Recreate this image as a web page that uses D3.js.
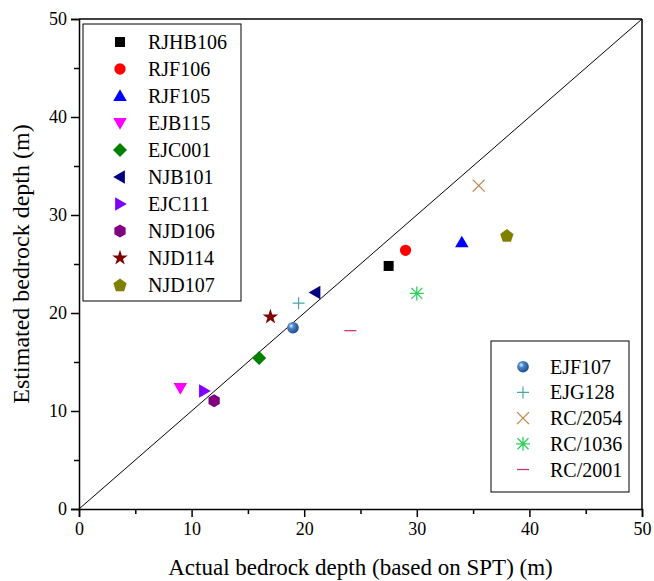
<!DOCTYPE html>
<html>
<head>
<meta charset="utf-8">
<script src="https://cdn.jsdelivr.net/npm/d3@7"></script>
<style>
  html, body { margin: 0; padding: 0; background: #fff; }
  svg text { font-family: 'Liberation Serif', Tinos, 'Times New Roman', Times, 'DejaVu Serif', serif !important; fill: #000; }
</style>
</head>
<body>
<svg id="chart" width="654" height="581"></svg>
<script>
// ---- data ----
const wellNames = ["RJHB106","RJF106","RJF105","EJB115","EJC001","NJB101","EJC111","NJD106","NJD114","NJD107",
                   "EJF107","EJG128","RC/2054","RC/1036","RC/2001"];
const actualDepth    = [27.5, 29.0, 34.0, 9.0, 16.0, 21.0, 11.1, 12.0, 17.0, 38.0, 19.0, 19.5, 35.5, 30.0, 24.1];
const estimatedDepth = [24.8, 26.4, 27.2, 12.35, 15.4, 22.1, 12.05, 11.05, 19.6, 27.9, 18.5, 21.0, 33.0, 22.0, 18.2];
const legendOneNames = wellNames.slice(0, 10);
const legendTwoNames = wellNames.slice(10);
const axisTicks = [0, 10, 20, 30, 40, 50];
const minorTicks = [5, 15, 25, 35, 45];
const xTitle = "Actual bedrock depth (based on SPT) (m)";
const yTitle = "Estimated bedrock depth (m)";

// ---- styles ----
const markerStyle = {
  "RJHB106": {shape: "square",   color: "#000000"},
  "RJF106":  {shape: "circle",   color: "#ff0000"},
  "RJF105":  {shape: "triUp",    color: "#0000ff"},
  "EJB115":  {shape: "triDown",  color: "#ff00ff"},
  "EJC001":  {shape: "diamond",  color: "#008000"},
  "NJB101":  {shape: "triLeft",  color: "#000080"},
  "EJC111":  {shape: "triRight", color: "#8000ff"},
  "NJD106":  {shape: "hexagon",  color: "#800080"},
  "NJD114":  {shape: "star",     color: "#800000"},
  "NJD107":  {shape: "pentagon", color: "#808000"},
  "EJF107":  {shape: "ball",     color: "#2f64a8"},
  "EJG128":  {shape: "plus",     color: "#4aa6a6"},
  "RC/2054": {shape: "cross",    color: "#c0844a"},
  "RC/1036": {shape: "asterisk", color: "#2fd060"},
  "RC/2001": {shape: "dash",     color: "#cc3380"}
};
const FONT = "'Liberation Serif', Tinos, 'Times New Roman', Times, 'DejaVu Serif', serif";

const m = {left: 79, right: 642, top: 19, bottom: 509};
const svg = d3.select("#chart");

const defs = svg.append("defs");
const grad = defs.append("radialGradient").attr("id", "ballGrad")
  .attr("cx", "35%").attr("cy", "35%").attr("r", "65%");
grad.append("stop").attr("offset", "0%").attr("stop-color", "#dfeeff");
grad.append("stop").attr("offset", "35%").attr("stop-color", "#4f86c8");
grad.append("stop").attr("offset", "100%").attr("stop-color", "#1f4f90");

const x = d3.scaleLinear().domain([0, 50]).range([m.left, m.right]);
const y = d3.scaleLinear().domain([0, 50]).range([m.bottom, m.top]);

// frame (top & right)
svg.append("line").attr("x1", m.left).attr("x2", m.right).attr("y1", m.top).attr("y2", m.top)
  .attr("stroke", "#000").attr("stroke-width", 1.5);
svg.append("line").attr("x1", m.right).attr("x2", m.right).attr("y1", m.top).attr("y2", m.bottom)
  .attr("stroke", "#000").attr("stroke-width", 1.5);

// 1:1 line
svg.append("line")
  .attr("x1", x(0)).attr("y1", y(0)).attr("x2", x(50)).attr("y2", y(50))
  .attr("stroke", "#000").attr("stroke-width", 1);

// axes
const xAxis = svg.append("g").attr("transform", `translate(0,${m.bottom})`)
  .call(d3.axisBottom(x).tickValues(axisTicks).tickSize(8).tickPadding(5).tickFormat(d3.format("d")));
const xMinor = svg.append("g").attr("transform", `translate(0,${m.bottom})`)
  .call(d3.axisBottom(x).tickValues(minorTicks).tickSize(5).tickFormat(""));
const yAxis = svg.append("g").attr("transform", `translate(${m.left},0)`)
  .call(d3.axisLeft(y).tickValues(axisTicks).tickSize(8).tickPadding(4).tickFormat(d3.format("d")));
const yMinor = svg.append("g").attr("transform", `translate(${m.left},0)`)
  .call(d3.axisLeft(y).tickValues(minorTicks).tickSize(5).tickFormat(""));
[xAxis, xMinor, yAxis, yMinor].forEach(g => {
  g.attr("font-family", FONT);
  g.select(".domain").attr("stroke", "#000").attr("stroke-width", 1.5);
  g.selectAll(".tick line").attr("stroke", "#000").attr("stroke-width", 1.5);
  g.selectAll(".tick text").attr("font-family", FONT).attr("font-size", 18).attr("fill", "#000");
});
xMinor.select(".domain").remove();
yMinor.select(".domain").remove();

// titles
svg.append("text").attr("x", (m.left + m.right) / 2).attr("y", 575)
  .attr("text-anchor", "middle").attr("font-family", FONT).attr("font-size", 23).text(xTitle);
svg.append("text").attr("transform", `translate(29,${(m.top + m.bottom) / 2}) rotate(-90)`)
  .attr("text-anchor", "middle").attr("font-family", FONT).attr("font-size", 24).text(yTitle);

// marker drawing
function polyPath(n, r, rot) {
  const pts = d3.range(n).map(i => {
    const a = rot + i * 2 * Math.PI / n;
    return [r * Math.sin(a), -r * Math.cos(a)];
  });
  return "M" + pts.map(p => p.join(",")).join("L") + "Z";
}
function drawMarker(g, name) {
  const st = markerStyle[name];
  const c = st.color;
  switch (st.shape) {
    case "square":
      g.append("path").attr("d", d3.symbol(d3.symbolSquare, 100)()).attr("fill", c); break;
    case "circle":
      g.append("path").attr("d", d3.symbol(d3.symbolCircle, 100)()).attr("fill", c); break;
    case "triUp":
      g.append("path").attr("d", polyPath(3, 7.8, 0)).attr("transform", "translate(0,1)").attr("fill", c); break;
    case "triDown":
      g.append("path").attr("d", polyPath(3, 7.8, Math.PI)).attr("transform", "translate(0,-1)").attr("fill", c); break;
    case "triLeft":
      g.append("path").attr("d", polyPath(3, 7.8, -Math.PI / 2)).attr("transform", "translate(1,0)").attr("fill", c); break;
    case "triRight":
      g.append("path").attr("d", polyPath(3, 7.8, Math.PI / 2)).attr("transform", "translate(-1,0)").attr("fill", c); break;
    case "diamond":
      g.append("path").attr("d", polyPath(4, 7, 0)).attr("fill", c); break;
    case "hexagon":
      g.append("path").attr("d", polyPath(6, 6.5, 0)).attr("fill", c); break;
    case "pentagon":
      g.append("path").attr("d", polyPath(5, 7, 0)).attr("transform", "translate(0,0.5)").attr("fill", c); break;
    case "star":
      g.append("path").attr("d", d3.symbol(d3.symbolStar, 75)()).attr("fill", c); break;
    case "ball":
      g.append("circle").attr("r", 5.8).attr("fill", "url(#ballGrad)"); break;
    case "plus":
      g.append("path").attr("d", "M-6,0H6M0,-6V6").attr("stroke", c).attr("stroke-width", 1.2).attr("fill", "none"); break;
    case "cross":
      g.append("path").attr("d", "M-6,-6L6,6M-6,6L6,-6").attr("stroke", c).attr("stroke-width", 1.3).attr("fill", "none"); break;
    case "asterisk":
      g.append("path").attr("d", "M-7,0H7M0,-7V7M-5.5,-5.5L5.5,5.5M-5.5,5.5L5.5,-5.5")
        .attr("stroke", c).attr("stroke-width", 1.3).attr("fill", "none"); break;
    case "dash":
      g.append("path").attr("d", "M-6,0H6").attr("stroke", c).attr("stroke-width", 1.3); break;
  }
}

// points
wellNames.forEach((name, i) => {
  const g = svg.append("g").attr("transform", `translate(${x(actualDepth[i])},${y(estimatedDepth[i])})`);
  drawMarker(g, name);
});

// legend 1
const l1 = svg.append("g");
l1.append("rect").attr("x", 83).attr("y", 24).attr("width", 158).attr("height", 277)
  .attr("fill", "#fff").attr("stroke", "#000").attr("stroke-width", 1);
legendOneNames.forEach((name, i) => {
  const cy = 42 + i * 27;
  drawMarker(l1.append("g").attr("transform", `translate(120,${cy})`), name);
  l1.append("text").attr("x", 148).attr("y", cy + 7).attr("font-family", FONT).attr("font-size", 20).text(name);
});

// legend 2
const l2 = svg.append("g");
l2.append("rect").attr("x", 491).attr("y", 341).attr("width", 138).attr("height", 151)
  .attr("fill", "#fff").attr("stroke", "#000").attr("stroke-width", 1);
legendTwoNames.forEach((name, i) => {
  const cy = 366.7 + i * 25.7;
  drawMarker(l2.append("g").attr("transform", `translate(523,${cy})`), name);
  l2.append("text").attr("x", 550).attr("y", cy + 7).attr("font-family", FONT).attr("font-size", 20).text(name);
});
</script>
</body>
</html>
